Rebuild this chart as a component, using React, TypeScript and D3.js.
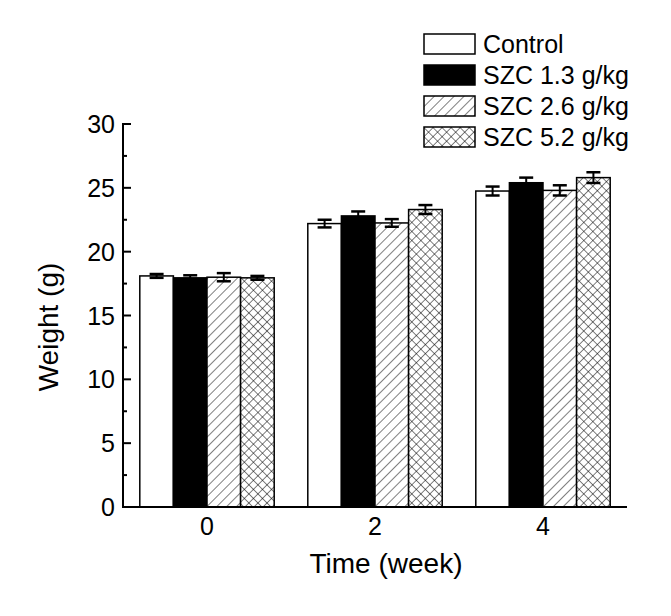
import React from "react";
import * as d3 from "d3";

const weeks = ["0", "2", "4"];
const series = ["Control", "SZC 1.3 g/kg", "SZC 2.6 g/kg", "SZC 5.2 g/kg"];
const control = [18.1, 22.2, 24.75];
const szc13 = [17.95, 22.8, 25.4];
const szc26 = [18.0, 22.25, 24.8];
const szc52 = [17.95, 23.3, 25.8];
const errControl = [0.15, 0.3, 0.35];
const err13 = [0.2, 0.35, 0.4];
const err26 = [0.32, 0.3, 0.4];
const err52 = [0.15, 0.35, 0.42];
const yTicks = [0, 5, 10, 15, 20, 25, 30];

const values = [control, szc13, szc26, szc52];
const errs = [errControl, err13, err26, err52];
const fills = ["#fff", "#000", "url(#hatch)", "url(#cross)"];

export default function App() {
  const W = 671, H = 616;
  const left = 123, right = 627, top = 124, bottom = 507;
  const x = d3.scaleBand<string>().domain(weeks).range([left, right]).paddingInner(0.2).paddingOuter(0.1);
  const xi = d3.scaleBand<string>().domain(series).range([0, x.bandwidth()]);
  const y = d3.scaleLinear().domain([0, 30]).range([bottom, top]);
  const minor = d3.range(2.5, 30, 5);
  const font = "Liberation Sans, Arial, sans-serif";

  return (
    <svg width={W} height={H} style={{ position: "absolute", left: 0, top: 0, background: "#fff" }}>
      <defs>
        <pattern id="hatch" patternUnits="userSpaceOnUse" width="7" height="7" patternTransform="rotate(45)">
          <rect width="7" height="7" fill="#fff" />
          <line x1="0" y1="0" x2="0" y2="7" stroke="#000" strokeWidth="1" />
        </pattern>
        <pattern id="cross" patternUnits="userSpaceOnUse" width="6.4" height="6.4" patternTransform="rotate(45)">
          <rect width="6.4" height="6.4" fill="#fff" />
          <line x1="0" y1="0" x2="0" y2="6.4" stroke="#000" strokeWidth="1" />
          <line x1="0" y1="0" x2="6.4" y2="0" stroke="#000" strokeWidth="1" />
        </pattern>
      </defs>
      <rect width={W} height={H} fill="#fff" />
      {series.map((s, si) =>
        weeks.map((w, wi) => {
          const bx = (x(w) as number) + (xi(s) as number);
          const bw = xi.bandwidth();
          const v = values[si][wi];
          const e = errs[si][wi];
          const cx = bx + bw / 2;
          return (
            <g key={s + w}>
              <rect x={bx} y={y(v)} width={bw} height={y(0) - y(v)} fill={fills[si]} stroke="#000" strokeWidth={1.5} />
              <line x1={cx} x2={cx} y1={y(v + e)} y2={y(v - e)} stroke="#000" strokeWidth={2} />
              <line x1={cx - 7} x2={cx + 7} y1={y(v + e)} y2={y(v + e)} stroke="#000" strokeWidth={2.5} />
              <line x1={cx - 7} x2={cx + 7} y1={y(v - e)} y2={y(v - e)} stroke="#000" strokeWidth={2.5} />
            </g>
          );
        })
      )}
      {/* axes */}
      <line x1={left} x2={left} y1={top - 1} y2={bottom + 1} stroke="#000" strokeWidth={2} />
      <line x1={left - 1} x2={right} y1={bottom} y2={bottom} stroke="#000" strokeWidth={2} />
      {yTicks.map((t) => (
        <g key={t}>
          <line x1={left} x2={left + 8} y1={y(t)} y2={y(t)} stroke="#000" strokeWidth={2} />
          <text x={left - 8} y={y(t)} dy="0.36em" textAnchor="end" fontSize={25} fontFamily={font}>{t}</text>
        </g>
      ))}
      {minor.map((t) => (
        <line key={t} x1={left} x2={left + 4} y1={y(t)} y2={y(t)} stroke="#000" strokeWidth={2} />
      ))}
      {weeks.map((w) => (
        <text key={w} x={(x(w) as number) + x.bandwidth() / 2} y={bottom + 28} textAnchor="middle" fontSize={25} fontFamily={font}>{w}</text>
      ))}
      <text x={386} y={573} textAnchor="middle" fontSize={28} fontFamily={font}>Time (week)</text>
      <text transform={`translate(58, 327) rotate(-90)`} textAnchor="middle" fontSize={28} fontFamily={font}>Weight (g)</text>
      {/* legend */}
      {series.map((s, i) => (
        <g key={s} transform={`translate(424, ${34 + i * 31})`}>
          <rect x={0} y={0} width={51} height={20} fill={fills[i]} stroke="#000" strokeWidth={1.5} />
          <text x={59} y={10} dy="0.36em" fontSize={25} fontFamily={font}>{s}</text>
        </g>
      ))}
    </svg>
  );
}
